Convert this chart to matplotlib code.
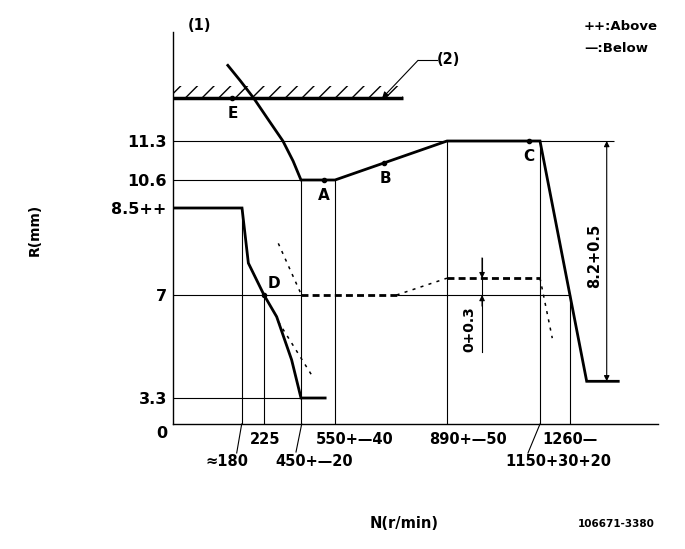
import numpy as np
import matplotlib
matplotlib.use("Agg")
import matplotlib.pyplot as plt
from matplotlib.lines import Line2D
from matplotlib.patches import Rectangle

plt.rcParams['font.family'] = ['DejaVu Sans']
plt.rcParams['font.weight'] = 'bold'

W, H = 685, 549

# schematic scales (value -> pixel), the drawing is not to scale
RPM_KNOTS = [0, 180, 225, 450, 550, 890, 1150, 1260, 1550]
RPM_PX = [173, 242, 264, 301, 335, 447, 540, 570, 658]
MM_KNOTS = [0, 3.3, 7, 8.5, 10.6, 11.3, 13.26]
MM_PX = [424, 398, 295, 208, 180, 141, 32]

# data
idle_n = [0, 180, 193, 225, 302, 393, 450, 521]
idle_r = [8.5, 8.5, 7.55, 7.0, 6.22, 4.67, 3.3, 3.3]

full_n = [143, 176, 204, 252, 340, 402, 450, 550, 890, 1150, 1315, 1419]
full_r = [12.66, 12.38, 12.07, 11.68, 11.3, 10.94, 10.6, 10.6, 11.3, 11.3, 3.9, 3.9]

pt_names = ['A', 'B', 'C', 'D', 'E']
pt_n = [518, 700, 1120, 225, 155]
pt_r = [10.6, 10.91, 11.3, 7.0, 12.07]

# boost compensator (dashed)
bc_thick1_n = [450, 737]
bc_thick1_r = [7.0, 7.0]
bc_thin1_n = [737, 890]
bc_thin1_r = [7.0, 7.29]
bc_thick2_n = [890, 1150]
bc_thick2_r = [7.29, 7.29]
bc_thin2_n = [1150, 1195]
bc_thin2_r = [7.29, 5.45]
tol_up_n = [312, 445]
tol_up_r = [7.89, 7.05]
tol_lo_n = [312, 481]
tol_lo_r = [6.04, 4.13]

stop_r = 12.07
stop_end = 757

v_n = [180, 225, 450, 550, 890, 1150, 1260]
v_top = [8.5, 7.0, 10.6, 10.6, 11.3, 11.3, 7.0]
h_r = [11.3, 10.6, 7.0, 7.0, 3.3]
h_start = [0, 0, 0, 737, 0]
h_end = [1405, 450, 450, 1260, 450]

ytick_vals = [11.3, 10.6, 8.5, 7, 3.3]
ytick_labels = ['11.3', '10.6', '8.5++', '7', '3.3']
xlab_row1 = ['225', '550+—40', '890+—50', '1260—']
xlab_row2 = ['≈180', '450+—20', '1150+30+20']

xup = lambda v: np.interp(v, RPM_KNOTS, RPM_PX)
xdn = lambda p: np.interp(p, RPM_PX, RPM_KNOTS)
YP = [424 - p for p in MM_PX]
yup = lambda v: np.interp(v, MM_KNOTS, YP)
ydn = lambda p: np.interp(p, YP, MM_KNOTS)


def fpx(x, y):
    return x / W, 1 - y / H


fig = plt.figure(figsize=(W / 100, H / 100), dpi=100)
ax = fig.add_axes([173 / W, 1 - 424 / H, (658 - 173) / W, (424 - 32) / H])
ax.set_xscale('function', functions=(xup, xdn))
ax.set_yscale('function', functions=(yup, ydn))
ax.set_xlim(0, 1550)
ax.set_ylim(0, 13.26)
for s in ['top', 'right']:
    ax.spines[s].set_visible(False)
for s in ['left', 'bottom']:
    ax.spines[s].set_linewidth(1.0)
ax.set_xticks([])
ax.set_yticks(ytick_vals, ytick_labels)
ax.tick_params(axis='y', length=0, pad=4.5, labelsize=11.5)
ax.minorticks_off()

thin = dict(color='k', lw=0.8)
ax.vlines(v_n, 0, v_top, **thin)
ax.hlines(h_r, h_start, h_end, **thin)

ax.plot(idle_n, idle_r, color='k', lw=2, solid_joinstyle='miter')
ax.plot(full_n, full_r, color='k', lw=2, solid_joinstyle='miter')

ax.plot(bc_thick1_n, bc_thick1_r, color='k', lw=2, dashes=(2.5, 1.5))
ax.plot(bc_thick2_n, bc_thick2_r, color='k', lw=2, dashes=(2.5, 1.5))
for n, r in [(bc_thin1_n, bc_thin1_r), (bc_thin2_n, bc_thin2_r),
             (tol_up_n, tol_up_r), (tol_lo_n, tol_lo_r)]:
    ax.plot(n, r, color='k', lw=1.1, dashes=(2, 3.5))

# full load stopper (2)
ax.plot([0, stop_end], [stop_r, stop_r], color='k', lw=2.5, solid_capstyle='butt')
ax.add_patch(Rectangle((0, stop_r), stop_end, 0.22, fill=False, hatch='//',
                       lw=0, edgecolor='k'))
ax.plot([802, 860], [12.75, 12.75], color='k', lw=0.8)
ax.annotate('', xy=(693, stop_r), xytext=(802, 12.75),
            arrowprops=dict(arrowstyle='-|>', color='k', lw=0.8,
                            shrinkA=0, shrinkB=0, mutation_scale=9))

ax.plot(pt_n, pt_r, 'o', color='k', ms=3)
offs = [(0, -16), (1, -16), (0, -15), (10, 11), (0, -15)]
for name, n, r, o in zip(pt_names, pt_n, pt_r, offs):
    ax.annotate(name, xy=(n, r), xytext=o, textcoords='offset pixels',
                ha='center', va='center', fontsize=11)

# dimensions
arr = dict(color='k', lw=0.8, shrinkA=0, shrinkB=0, mutation_scale=8)
ax.plot([988, 988], [7.64, 4.95], color='k', lw=0.8)
ax.annotate('', xy=(988, 7.29), xytext=(988, 7.64),
            arrowprops=dict(arrowstyle='-|>', **arr))
ax.annotate('', xy=(988, 7.0), xytext=(988, 6.6),
            arrowprops=dict(arrowstyle='-|>', **arr))
ax.annotate('', xy=(1381, 11.3), xytext=(1381, 3.9),
            arrowprops=dict(arrowstyle='<|-|>', **arr))

fig.text(*fpx(469, 329), '0+0.3', rotation=90, ha='center', va='center', fontsize=10)
fig.text(*fpx(595, 256), '8.2+0.5', rotation=90, ha='center', va='center', fontsize=10.5)

# texts
fig.text(*fpx(200, 25), '(1)', ha='center', va='center', fontsize=10.5)
fig.text(*fpx(437, 60), '(2)', ha='left', va='center', fontsize=10.5)
fig.text(*fpx(584, 27), '++:Above', ha='left', va='center', fontsize=9.5)
fig.text(*fpx(584, 48), '—:Below', ha='left', va='center', fontsize=9.5)
fig.text(*fpx(35, 230), 'R(mm)', rotation=90, ha='center', va='center', fontsize=10)
fig.text(*fpx(404, 523), 'N(r/min)', ha='center', va='center', fontsize=10.5)
fig.text(*fpx(616, 524), '106671-3380', ha='center', va='center', fontsize=7.5)
fig.text(*fpx(167, 433), '0', ha='right', va='center', fontsize=11.5)

for lab, x in zip(xlab_row1, [250, 316, 429, 542]):
    fig.text(*fpx(x, 440), lab, ha='left', va='center', fontsize=10.5)
for lab, x in zip(xlab_row2, [205, 275, 505]):
    fig.text(*fpx(x, 462), lab, ha='left', va='center', fontsize=10.5)
for (x0, y0), (x1, y1) in [((241.7, 424), (236.7, 453)),
                           ((301.7, 424), (296, 452)),
                           ((540, 424), (528, 453))]:
    fig.add_artist(Line2D([x0 / W, x1 / W], [1 - y0 / H, 1 - y1 / H], color='k', lw=0.8))

fig.savefig('out.png', dpi=100)
